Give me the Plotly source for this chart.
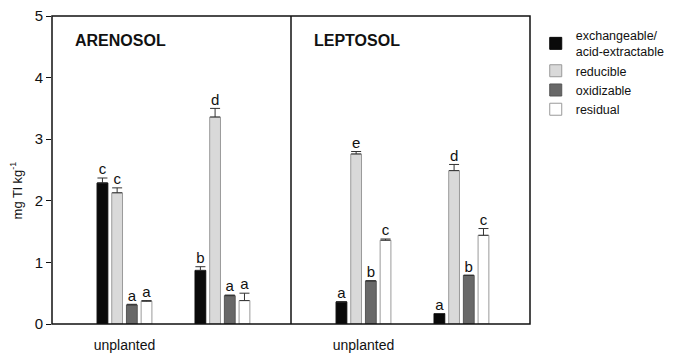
import plotly.graph_objects as go

# ---------------- data ----------------
soils = ["ARENOSOL", "LEPTOSOL"]
group_labels = ["unplanted", ""]
fractions = ["exchangeable/<br>acid-extractable", "reducible", "oxidizable", "residual"]

# means[fraction] = [group1, group2]
arenosol_means = [[2.29, 0.87], [2.13, 3.36], [0.31, 0.46], [0.37, 0.38]]
arenosol_errs = [[0.08, 0.06], [0.08, 0.14], [0.01, 0.01], [0.01, 0.12]]
arenosol_letters = [["c", "b"], ["c", "d"], ["a", "a"], ["a", "a"]]

leptosol_means = [[0.36, 0.17], [2.76, 2.49], [0.70, 0.79], [1.36, 1.44]]
leptosol_errs = [[0.0, 0.0], [0.04, 0.10], [0.0, 0.0], [0.02, 0.11]]
leptosol_letters = [["a", "a"], ["e", "d"], ["b", "b"], ["c", "c"]]

y_ticks = [0, 1, 2, 3, 4, 5]

# ---------------- style ----------------
fill_colors = ["#0a0a0a", "#d9d9d9", "#686868", "#ffffff"]
line_colors = ["#0a0a0a", "#9a9a9a", "#555555", "#9a9a9a"]
FONT = "Liberation Sans, Arial, sans-serif"
offsets = [-0.225, -0.075, 0.075, 0.225]
bar_w = 0.11

fig = go.Figure()
panels = [
    (arenosol_means, arenosol_errs, arenosol_letters, "x", "y"),
    (leptosol_means, leptosol_errs, leptosol_letters, "x2", "y"),
]
group_pos = [0, 1]
for p, (means, errs, letters, xa, ya) in enumerate(panels):
    for i, name in enumerate(fractions):
        xs = [g + offsets[i] for g in group_pos]
        fig.add_trace(go.Bar(
            x=xs, y=means[i], width=bar_w, name=name,
            marker=dict(color=fill_colors[i], line=dict(color=line_colors[i], width=1)),
            error_y=dict(type="data", symmetric=False, array=errs[i],
                         arrayminus=[0] * len(errs[i]), color="#333333",
                         thickness=1, width=5),
            xaxis=xa, yaxis=ya, showlegend=(p == 0), legendgroup=name,
        ))
        fig.add_trace(go.Scatter(
            x=xs, y=[m + e for m, e in zip(means[i], errs[i])],
            text=letters[i], mode="text", textposition="top center",
            textfont=dict(size=15, color="#111111", family=FONT),
            xaxis=xa, yaxis=ya, showlegend=False, hoverinfo="skip",
        ))

# only labelled groups get a tick label
label_pos = [g for g, t in zip(group_pos, group_labels) if t]
label_txt = [t for t in group_labels if t]

xrange = [-0.74, 1.70]
common_x = dict(range=xrange, showgrid=False, zeroline=False, showline=False,
                tickvals=label_pos, ticktext=label_txt, ticks="",
                tickfont=dict(size=14, color="#111111", family=FONT),
                ticklabelstandoff=11, automargin=False)
# the page shows the figure with an 8 px offset, so the figure is 8 px smaller
fig.update_layout(
    width=673, height=346,
    margin=dict(l=44, r=151, t=8, b=30, autoexpand=False),
    paper_bgcolor="white", plot_bgcolor="white",
    barmode="overlay",
    font=dict(family=FONT, color="#111111"),
    xaxis=dict(domain=[0, 0.5], **common_x),
    xaxis2=dict(domain=[0.5, 1.0], anchor="y", **common_x),
    yaxis=dict(range=[0, 5], tickvals=y_ticks, showgrid=False, zeroline=False,
               showline=False, ticks="outside", ticklen=5, tickcolor="#111111",
               automargin=False, ticklabeloverflow="allow",
               tickfont=dict(size=15, color="#111111", family=FONT)),
    legend=dict(x=1.012, y=0.985, xanchor="left", yanchor="top",
                font=dict(size=12.5, color="#111111", family=FONT),
                tracegroupgap=0, itemwidth=30, bgcolor="rgba(0,0,0,0)"),
    showlegend=True,
)

# frame and panel divider
fig.add_shape(type="rect", xref="paper", yref="paper", x0=0, y0=0, x1=1, y1=1,
              line=dict(color="#111111", width=1.5))
fig.add_shape(type="line", xref="paper", yref="paper", x0=0.5, y0=0, x1=0.5, y1=1,
              line=dict(color="#111111", width=1.5))

# panel titles
for k, s in enumerate(soils):
    fig.add_annotation(text="<b>%s</b>" % s, xref="paper", yref="paper",
                       x=0.044 + 0.5 * k, y=0.922, xanchor="left", yanchor="middle",
                       showarrow=False, font=dict(size=16, color="#111111", family=FONT))

# y-axis title
fig.add_annotation(text="mg Tl kg<sup>-1</sup>", xref="paper", yref="paper",
                   x=-0.0745, y=0.435, textangle=-90, showarrow=False,
                   xanchor="center", yanchor="middle",
                   font=dict(size=13, color="#111111", family=FONT))

fig.write_html("out.html")
